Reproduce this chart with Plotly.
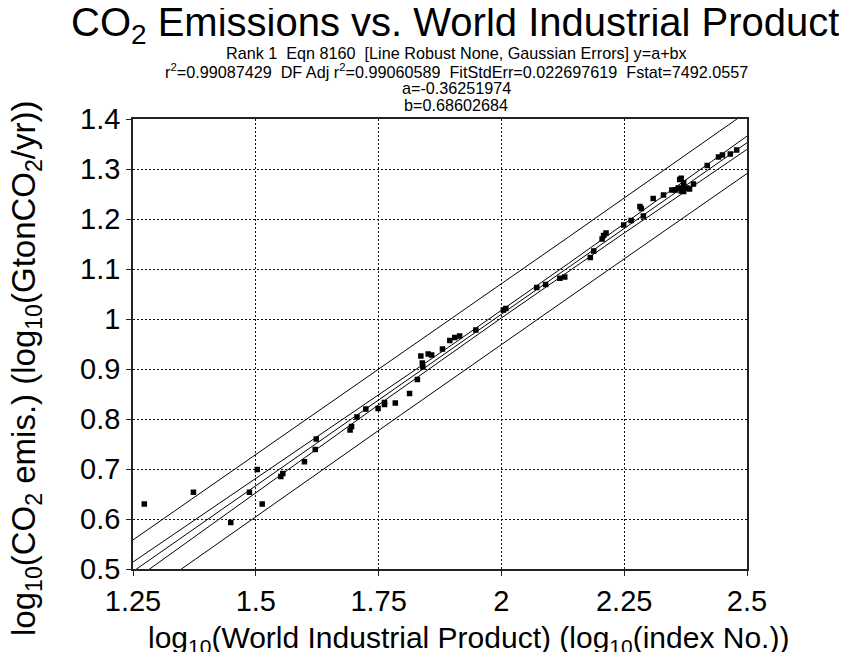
import numpy as np
import plotly.graph_objects as go

# ---- data ----
log_wip = [1.273, 1.373, 1.449, 1.487, 1.503, 1.513, 1.551, 1.555, 1.599, 1.621,
           1.623, 1.692, 1.695, 1.706, 1.724, 1.749, 1.762, 1.762, 1.784, 1.813,
           1.829, 1.836, 1.851, 1.839, 1.840, 1.858, 1.880, 1.895, 1.905, 1.915,
           1.948, 2.004, 2.009, 2.072, 2.090, 2.119, 2.129, 2.181, 2.188, 2.205,
           2.208, 2.213, 2.249, 2.264, 2.282, 2.285, 2.289, 2.309, 2.330, 2.347,
           2.354, 2.360, 2.366, 2.371, 2.366, 2.371, 2.391, 2.363, 2.371, 2.378,
           2.383, 2.419, 2.442, 2.450, 2.466, 2.479]
log_co2 = [0.630, 0.6535, 0.593, 0.6535, 0.699, 0.630, 0.685, 0.691, 0.7145, 0.739,
           0.760, 0.778, 0.785, 0.804, 0.820, 0.821, 0.829, 0.833, 0.832, 0.851,
           0.879, 0.926, 0.930, 0.912, 0.904, 0.928, 0.940, 0.957, 0.963, 0.966,
           0.978, 1.018, 1.021, 1.063, 1.069, 1.0815, 1.084, 1.123, 1.136, 1.160,
           1.167, 1.172, 1.188, 1.197, 1.225, 1.221, 1.206, 1.241, 1.248, 1.258,
           1.258, 1.262, 1.256, 1.255, 1.2815, 1.2725, 1.270, 1.279, 1.265, 1.262,
           1.260, 1.307, 1.324, 1.328, 1.330, 1.338]

A_COEF = -0.36251974
B_COEF = 0.68602684
FIT_STD_ERR = 0.022697619
T_CRIT = 2.649  # two-sided 99 % level

x_ticks = [1.25, 1.5, 1.75, 2, 2.25, 2.5]
x_tick_text = ["1.25", "1.5", "1.75", "2", "2.25", "2.5"]
y_ticks = [0.5, 0.6, 0.7, 0.8, 0.9, 1.0, 1.1, 1.2, 1.3, 1.4]
y_tick_text = ["0.5", "0.6", "0.7", "0.8", "0.9", "1", "1.1", "1.2", "1.3", "1.4"]

# ---- fit and bands ----
xd = np.array(log_wip)
n = len(xd)
xbar = xd.mean()
sxx = ((xd - xbar) ** 2).sum()
xs = np.linspace(1.2, 2.55, 200)
yfit = A_COEF + B_COEF * xs
conf = T_CRIT * FIT_STD_ERR * np.sqrt(1.0 / n + (xs - xbar) ** 2 / sxx)
pred = T_CRIT * FIT_STD_ERR * np.sqrt(1.0 + 1.0 / n + (xs - xbar) ** 2 / sxx)

FONT = "Liberation Sans, Arial, sans-serif"

W, H = 847, 652
ML, MR, MT, MB = 125, 108, 111, 91
PW = W - ML - MR
PH = H - MT - MB


def xpix(p):
    return (p - ML) / PW


def ypix(p):
    return (H - MB - p) / PH


fig = go.Figure()
line_style = dict(color="black", width=1)
for yy in [yfit + pred, yfit + conf, yfit, yfit - conf, yfit - pred]:
    fig.add_trace(go.Scatter(x=xs, y=yy, mode="lines", line=line_style,
                             hoverinfo="skip", showlegend=False))
fig.add_trace(go.Scatter(x=log_wip, y=log_co2, mode="markers",
                         marker=dict(symbol="square", size=5.5, color="black"),
                         showlegend=False))

axis_common = dict(showline=True, linecolor="#222", linewidth=1.5, mirror=True,
                   showgrid=True, gridcolor="#111", griddash="2px,2px", gridwidth=1,
                   ticks="outside", ticklen=5, tickcolor="#222", zeroline=False,
                   tickfont=dict(family=FONT, size=29, color="black"))

fig.update_xaxes(range=[1.25, 2.5], tickvals=x_ticks, ticktext=x_tick_text, **axis_common)
fig.update_yaxes(range=[0.5, 1.4], tickvals=y_ticks, ticktext=y_tick_text, **axis_common)

fig.update_layout(
    width=W, height=H,
    margin=dict(l=ML, r=MR, t=MT, b=MB),
    plot_bgcolor="white", paper_bgcolor="white",
    showlegend=False,
)

# axis titles
fig.add_annotation(text="log<sub>10</sub>(World Industrial Product) (log<sub>10</sub>(index No.))",
                   x=xpix(460), xref="paper", y=ypix(631), yref="paper",
                   xanchor="center", yanchor="middle", showarrow=False,
                   font=dict(family=FONT, size=30, color="black"))
fig.add_annotation(text="log<sub>10</sub>(CO<sub>2</sub> emis.) (log<sub>10</sub>(GtonCO<sub>2</sub>/yr))",
                   x=xpix(18), xref="paper", y=ypix(360), yref="paper",
                   xanchor="center", yanchor="middle", textangle=-90, showarrow=False,
                   font=dict(family=FONT, size=33, color="black"))

NB = "\u00a0"
sub_lines = [
    f"Rank 1{NB} Eqn 8160{NB} [Line Robust None, Gaussian Errors] y=a+bx",
    f"r<sup>2</sup>=0.99087429{NB} DF Adj r<sup>2</sup>=0.99060589{NB} FitStdErr=0.022697619{NB} Fstat=7492.0557",
    "a=-0.36251974",
    "b=0.68602684",
]
fig.add_annotation(text="CO<sub>2</sub> Emissions vs. World Industrial Product",
                   x=xpix(447), xref="paper", y=ypix(17), yref="paper", yanchor="middle",
                   showarrow=False,
                   font=dict(family=FONT, size=40, color="black"))
for i, s in enumerate(sub_lines):
    fig.add_annotation(text=s, x=xpix(448), xref="paper", y=ypix(45 + 17.5 * i), yref="paper",
                       yanchor="middle", showarrow=False,
                       font=dict(family=FONT, size=16.2, color="black"))

fig.write_html("out.html")
